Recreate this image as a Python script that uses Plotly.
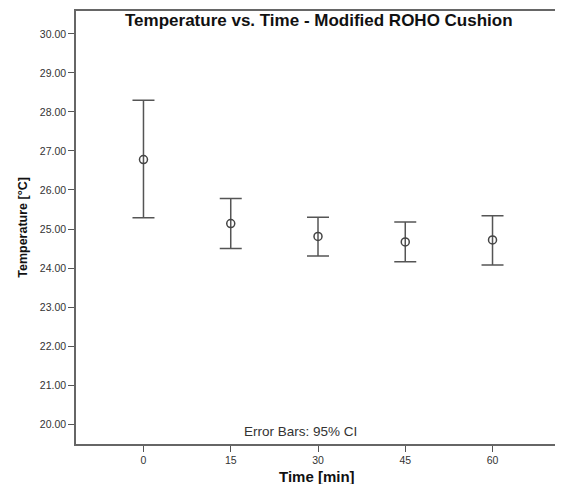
import plotly.graph_objects as go

times = [0, 15, 30, 45, 60]
means = [26.78, 25.14, 24.81, 24.67, 24.72]
upper = [28.30, 25.78, 25.30, 25.18, 25.34]
lower = [25.29, 24.50, 24.31, 24.16, 24.08]

y_ticks = [20, 21, 22, 23, 24, 25, 26, 27, 28, 29, 30]
x_ticks = [0, 15, 30, 45, 60]

err_plus = [u - m for u, m in zip(upper, means)]
err_minus = [m - l for m, l in zip(means, lower)]

fig = go.Figure()
fig.add_trace(go.Scatter(
    x=times, y=means, mode="markers",
    marker=dict(symbol="circle-open", size=8, color="#444444", line=dict(width=1.5)),
    error_y=dict(type="data", symmetric=False, array=err_plus, arrayminus=err_minus,
                 color="#555555", thickness=1.5, width=11),
    showlegend=False,
))

axis_common = dict(showgrid=False, zeroline=False, showline=True, linecolor="#666666",
                   linewidth=1.5, mirror=True, ticks="outside", ticklen=6,
                   tickcolor="#555555", tickfont=dict(size=10.5, color="#333333"))

fig.update_layout(
    width=555, height=476,
    margin=dict(l=68, r=2, t=1, b=40),
    paper_bgcolor="white", plot_bgcolor="white",
    font=dict(family="Liberation Sans, Arial, sans-serif", color="#222222"),
    xaxis=dict(range=[-11.6, 71.6], tickvals=x_ticks, ticktext=[str(t) for t in x_ticks],
               **axis_common),
    yaxis=dict(range=[19.49, 30.587], tickvals=y_ticks, ticktext=[f"{v:.2f}" for v in y_ticks],
               **axis_common),
    annotations=[
        dict(text="<b>Temperature vs. Time - Modified ROHO Cushion</b>", x=0.503, y=0.979,
             xref="paper", yref="paper", xanchor="center", yanchor="middle",
             showarrow=False, font=dict(size=17, color="#111111")),
        dict(text="Error Bars: 95% CI", x=0.463, y=0.028, xref="paper", yref="paper",
             xanchor="center", yanchor="middle", showarrow=False,
             font=dict(size=13.5, color="#333333")),
        dict(text="<b>Time [min]</b>", x=0.498, y=-0.075, xref="paper", yref="paper",
             xanchor="center", yanchor="middle", showarrow=False,
             font=dict(size=15, color="#111111")),
        dict(text="<b>Temperature [°C]</b>", x=-0.111, y=0.5, xref="paper", yref="paper",
             xanchor="center", yanchor="middle", textangle=-90, showarrow=False,
             font=dict(size=12.5, color="#111111")),
    ],
)

fig.write_html("out.html")
